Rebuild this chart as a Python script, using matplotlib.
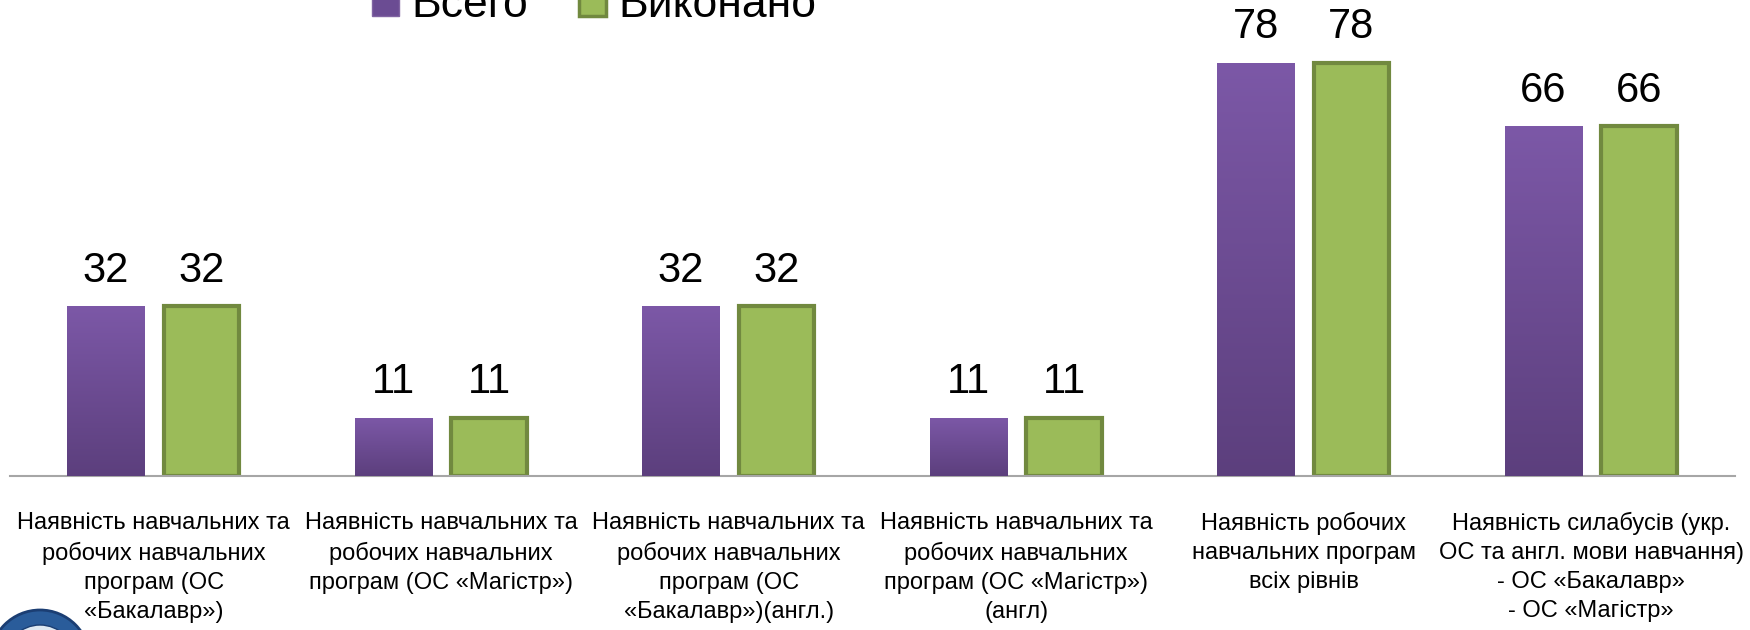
import numpy as np
import matplotlib
matplotlib.use('Agg')
from matplotlib import pyplot as plt
from matplotlib.patches import Patch, Ellipse

plt.rcParams['font.family'] = ['Liberation Sans', 'DejaVu Sans']

# categories and series
categories = [
    'Наявність навчальних та\nробочих навчальних\nпрограм (ОС\n«Бакалавр»)',
    'Наявність навчальних та\nробочих навчальних\nпрограм (ОС «Магістр»)',
    'Наявність навчальних та\nробочих навчальних\nпрограм (ОС\n«Бакалавр»)(англ.)',
    'Наявність навчальних та\nробочих навчальних\nпрограм (ОС «Магістр»)\n(англ)',
    'Наявність робочих\nнавчальних програм\nвсіх рівнів',
    'Наявність силабусів (укр.\nОС та англ. мови навчання)\n- ОС «Бакалавр»\n- ОС «Магістр»',
]
total = [32, 11, 32, 11, 78, 66]
done = [32, 11, 32, 11, 78, 66]
series_names = ['Всего', 'Виконано']

purple_top = '#7C58A7'
purple_bottom = '#5C3F7D'
green = '#9BBB59'
green_edge = '#71893F'

fig = plt.figure(figsize=(17.5, 6.3), dpi=100)
ax = fig.add_axes([10 / 1750, 154 / 630, 1725 / 1750, 476 / 630])

x = np.arange(len(categories))
w = 0.27
off = 0.166

bars1 = ax.bar(x - off, total, width=w, color=purple_top, linewidth=0, zorder=2)
bars2 = ax.bar(x + off, done, width=w - 0.008, color=green, edgecolor=green_edge,
               linewidth=3, zorder=2)

# vertical gradient inside the purple bars
c0 = np.array(matplotlib.colors.to_rgb(purple_top))
c1 = np.array(matplotlib.colors.to_rgb(purple_bottom))
t = np.linspace(0, 1, 256)[:, None]
grad = (c0[None, :] * (1 - t) + c1[None, :] * t)[:, None, :]
for b in bars1:
    bx, by = b.get_x(), b.get_y()
    im = ax.imshow(grad, extent=(bx, bx + b.get_width(), by, by + b.get_height()),
                   aspect='auto', zorder=3, origin='upper')
    im.set_clip_path(b)

for bars, vals in [(bars1, total), (bars2, done)]:
    for b, v in zip(bars, vals):
        ax.annotate(str(v), (b.get_x() + b.get_width() / 2, b.get_height()),
                    xytext=(0, 11), textcoords='offset points',
                    ha='center', va='bottom', fontsize=30)

ax.set_xlim(-0.5, len(categories) - 0.5)
ax.set_ylim(0, 476 / 5.3)
ax.set_xticks(x)
ax.set_xticklabels(categories, fontsize=17, linespacing=1.41)
ax.tick_params(axis='x', length=0, pad=26)
ax.set_yticks([])
for s in ['left', 'right', 'top']:
    ax.spines[s].set_visible(False)
ax.spines['bottom'].set_color('#A6A6A6')
ax.spines['bottom'].set_linewidth(1.5)

handles = [Patch(facecolor='#6B4C93', edgecolor='#8064A2', linewidth=1),
           Patch(facecolor=green, edgecolor=green_edge, linewidth=2.5)]
fig.legend(handles, series_names, loc='lower left', bbox_to_anchor=(372 / 1750, 0.958),
           ncol=2, frameon=False, fontsize=32, borderpad=0, borderaxespad=0,
           handlelength=0.6, handleheight=0.6, handletextpad=0.28, columnspacing=1.15)

# university emblem partly visible in the corner
fig.add_artist(Ellipse((40 / 1750, -30 / 630), 100 / 1750, 100 / 630,
                       facecolor='#2A5C9A', edgecolor='#1B3E73', linewidth=2,
                       transform=fig.transFigure))
fig.add_artist(Ellipse((40 / 1750, -30 / 630), 70 / 1750, 70 / 630,
                       facecolor='#DDE8F2', edgecolor='#1B3E73', linewidth=1,
                       transform=fig.transFigure))

fig.savefig('out.png', dpi=100)
